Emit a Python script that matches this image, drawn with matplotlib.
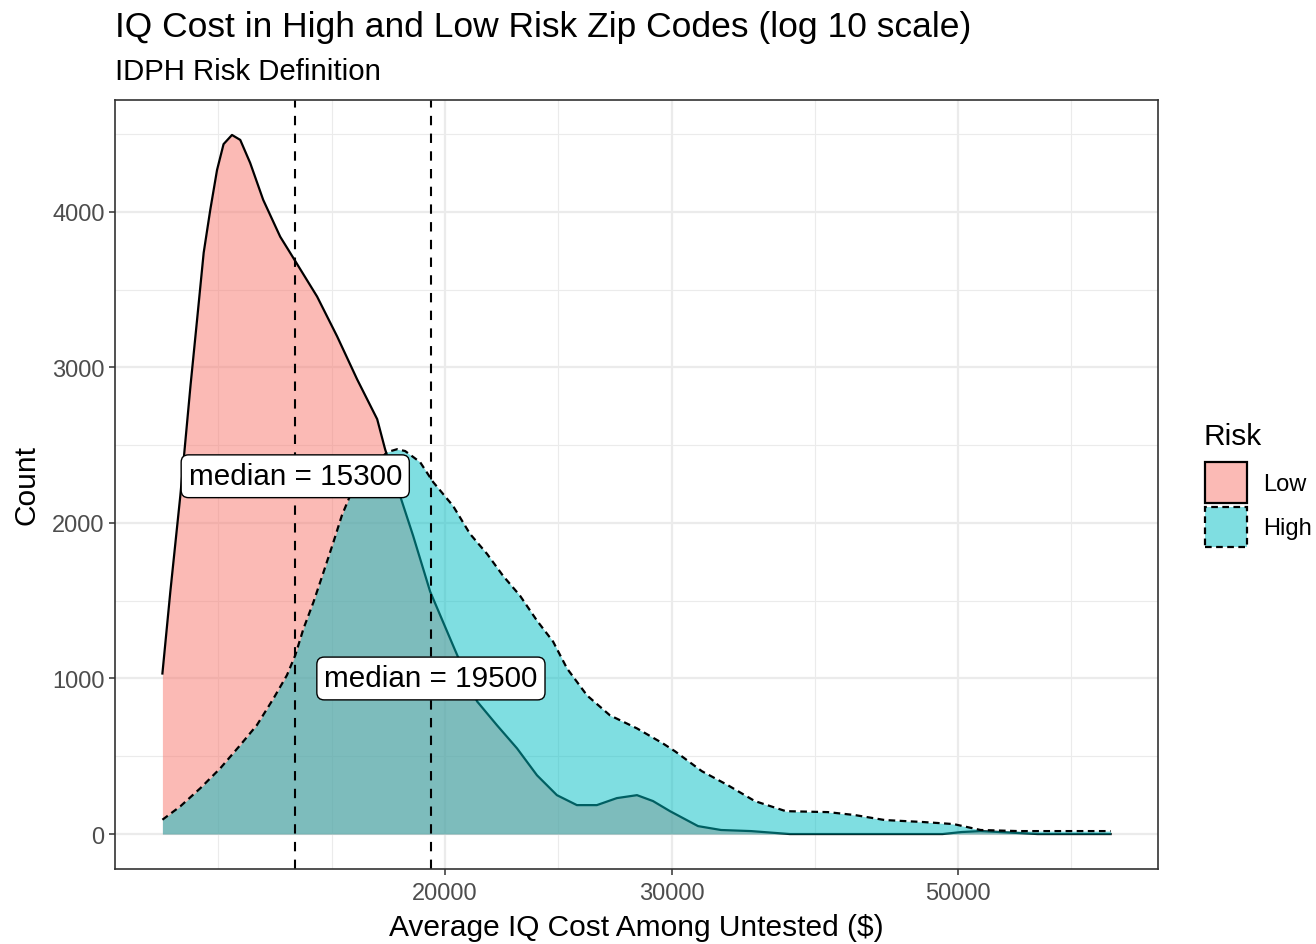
import numpy as np
import matplotlib
matplotlib.use("Agg")
import matplotlib.pyplot as plt
from matplotlib.patches import Patch
from matplotlib.ticker import FixedLocator, NullFormatter, FixedFormatter

# ---------------- data ----------------
groups = ["Low", "High"]

low_x = [12066, 12238, 12458, 12686, 12838, 12990, 13144, 13304, 13460, 13664,
         13868, 14116, 14448, 14894, 15244, 15910, 16490, 17090, 17714, 17966,
         18456, 18890, 19474, 20288, 21176, 21946, 22744, 23570, 24426, 25314,
         26234, 27188, 28186, 29004, 29900, 31436, 32756, 34558, 37040, 48672,
         50362, 52098, 53906, 57680, 65724]
low_y = [1032, 1558, 2173, 2878, 3308, 3737, 4013, 4269, 4435, 4494,
         4462, 4314, 4077, 3840, 3705, 3455, 3199, 2923, 2667, 2474,
         2173, 1917, 1558, 1212, 853, 699, 551, 378, 250, 186,
         186, 231, 250, 212, 147, 51, 26, 19, 0, 0,
         13, 19, 13, 0, 0]

high_x = [12066, 12458, 12914, 13382, 13868, 14288, 14718, 15074, 15300, 15528,
          15808, 16094, 16380, 16628, 16876, 17490, 18032, 18358, 18622, 19126,
          19576, 20288, 20914, 21558, 22184, 22868, 23570, 24260, 24874, 25778,
          26856, 28186, 29516, 30168, 31652, 33156, 34792, 36776, 39648, 41608,
          43894, 47060, 49648, 52098, 55760, 59788, 65724]
high_y = [92, 178, 295, 423, 572, 701, 872, 1021, 1149, 1321,
          1492, 1684, 1876, 2047, 2175, 2346, 2455, 2474, 2462, 2391,
          2263, 2109, 1929, 1801, 1660, 1532, 1372, 1237, 1064, 891,
          763, 679, 583, 532, 404, 314, 212, 147, 141, 122,
          90, 77, 64, 26, 19, 19, 19]

medians = [15300, 19500]
median_label_y = [2300, 1000]

x_ticks = [20000, 30000, 50000]
x_ticklabels = ["20000", "30000", "50000"]
y_ticks = [0, 1000, 2000, 3000, 4000]
y_ticklabels = ["0", "1000", "2000", "3000", "4000"]

title = "IQ Cost in High and Low Risk Zip Codes (log 10 scale)"
subtitle = "IDPH Risk Definition"
xlabel = "Average IQ Cost Among Untested ($)"
ylabel = "Count"
legend_title = "Risk"

# ---------------- style ----------------
plt.rcParams["font.family"] = ["Liberation Sans", "DejaVu Sans"]
W, H = 1316, 945
fig = plt.figure(figsize=(W / 100, H / 100), dpi=100)
fig.patch.set_facecolor("white")

L, R, T, B = 115, 1158, 101, 870
ax = fig.add_axes([L / W, 1 - B / H, (R - L) / W, (B - T) / H])

col_low = "#F8766D"
col_high = "#00BFC4"
grid_col = "#EBEBEB"
dark = "#333333"

# low group: fill then outline
ax.fill_between(low_x, 0, low_y, color=col_low, alpha=0.5, lw=0, zorder=2)
ax.plot(low_x, low_y, color="black", lw=1.6, solid_joinstyle="round", zorder=2.1)
# high group: fill then dashed outline
ax.fill_between(high_x, 0, high_y, color=col_high, alpha=0.5, lw=0, zorder=2.2)
ax.plot(high_x, high_y, color="black", lw=1.6, ls=(0, (3.0, 2.0)), zorder=2.3)

# median lines and labels
for m, ly in zip(medians, median_label_y):
    ax.axvline(m, color="black", lw=1.5, ls=(0, (4.5, 4)), zorder=3)
    ax.text(m, ly, f"median = {m}", ha="center", va="center", fontsize=21.3,
            color="black", zorder=4,
            bbox=dict(boxstyle="round,pad=0.25,rounding_size=0.25",
                      fc="white", ec="black", lw=1.0))

# scales
ax.set_xscale("log")
lx = np.log10([min(min(low_x), min(high_x)), max(max(low_x), max(high_x))])
pad = 0.05 * (lx[1] - lx[0])
ax.set_xlim(10 ** (lx[0] - pad), 10 ** (lx[1] + pad))
ymax = max(max(low_y), max(high_y))
ax.set_ylim(-0.05 * ymax, ymax * 1.05)

# ggplot-like minor breaks (midpoints on transformed scale, extended)
lb = list(np.log10(x_ticks))
bd = lb[1] - lb[0]
ext = [lb[0] - bd] + lb + [lb[-1] + bd]
xminor = []
for a, b in zip(ext[:-1], ext[1:]):
    xminor += [a, (a + b) / 2]
xminor = [10 ** v for v in xminor if all(abs(v - t) > 1e-6 for t in lb)]

ax.xaxis.set_major_locator(FixedLocator(x_ticks))
ax.xaxis.set_major_formatter(FixedFormatter(x_ticklabels))
ax.xaxis.set_minor_locator(FixedLocator(xminor))
ax.xaxis.set_minor_formatter(NullFormatter())
ax.yaxis.set_major_locator(FixedLocator(y_ticks))
ax.yaxis.set_major_formatter(FixedFormatter(y_ticklabels))
ax.yaxis.set_minor_locator(FixedLocator([v + 500 for v in y_ticks]))

ax.grid(which="major", color=grid_col, lw=1.6, zorder=0)
ax.grid(which="minor", color=grid_col, lw=0.8, zorder=0)
ax.set_axisbelow(True)

ax.tick_params(which="major", length=4, width=1.1, color=dark,
               labelsize=17, labelcolor="#4D4D4D")
ax.tick_params(axis="x", which="major", pad=5.5)
ax.tick_params(axis="y", which="major", pad=3.5)
ax.tick_params(which="minor", length=0)
for s in ax.spines.values():
    s.set_color(dark)
    s.set_linewidth(1.2)
    s.set_zorder(5)

ax.set_xlabel(xlabel, fontsize=21.5, color="black")
ax.set_ylabel(ylabel, fontsize=21.5, color="black")
ax.xaxis.set_label_coords(0.5, (B - 914) / (B - T))
ax.yaxis.set_label_coords((40 - L) / (R - L), 0.5)

fig.text(L / W, 1 - 37 / H, title, fontsize=25.5, ha="left", va="baseline")
fig.text(L / W, 1 - 80 / H, subtitle, fontsize=21.2, ha="left", va="baseline")

# legend
fig.text(1203 / W, 1 - 445 / H, legend_title, fontsize=21.5, ha="left",
         va="baseline")
handles = [
    Patch(facecolor=matplotlib.colors.to_rgba(col_low, 0.5), edgecolor="black",
          lw=1.6, label=groups[0]),
    Patch(facecolor=matplotlib.colors.to_rgba(col_high, 0.5), edgecolor="black",
          lw=1.6, ls=(0, (3.0, 2.0)), label=groups[1]),
]
leg = ax.legend(handles=handles, loc="upper left",
                bbox_to_anchor=(1205 / W, 1 - 463 / H),
                bbox_transform=fig.transFigure, frameon=False,
                fontsize=17, handlelength=1.78, handleheight=2.27,
                labelspacing=0.17, handletextpad=0.68, borderpad=0,
                borderaxespad=0)

fig.savefig("out.png", dpi=100)
